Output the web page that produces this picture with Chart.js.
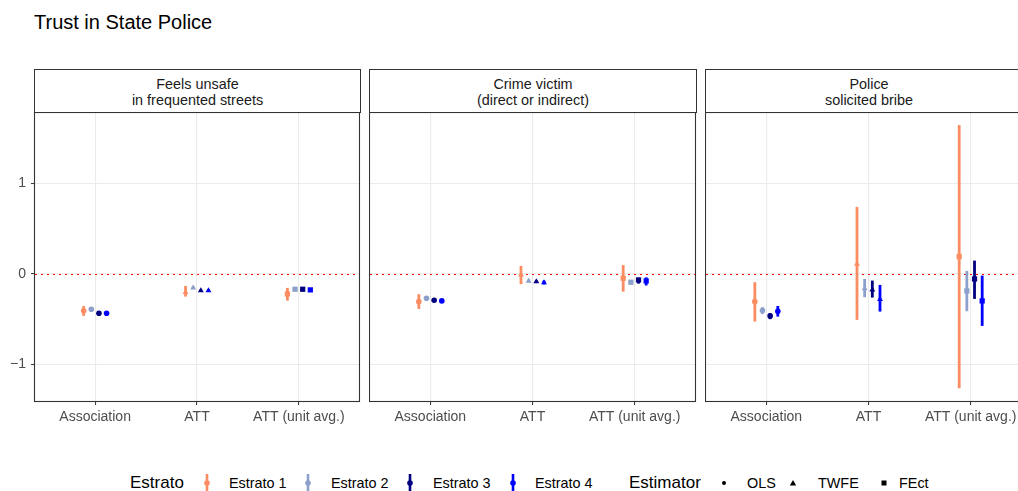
<!DOCTYPE html>
<html>
<head>
<meta charset="utf-8">
<script src="https://cdn.jsdelivr.net/npm/chart.js@4.4.1/dist/chart.umd.min.js"></script>
<style>
  body { margin: 0; width: 1018px; height: 491px; overflow: hidden; position: relative; background: #fff;
         font-family: "Liberation Sans", Arial, Helvetica, sans-serif; }
  .title { position: absolute; left: 34px; top: 10px; font-size: 20px; line-height: 24px; color: #000; white-space: nowrap; }
  .strip { position: absolute; top: 69px; height: 44px; box-sizing: border-box; border: 1px solid #333;
           background: #fff; color: #1a1a1a; font-size: 14.4px; line-height: 16px; text-align: center;
           padding-top: 6px; white-space: nowrap; }
  canvas { position: absolute; }
  .lg { position: absolute; white-space: nowrap; color: #000; }
  .lg-title { font-size: 17px; line-height: 20px; top: 473px; }
  .lg-text { font-size: 14.4px; line-height: 16px; top: 475px; }
  svg.key { position: absolute; overflow: visible; }
</style>
</head>
<body>
<div class="title">Trust in State Police</div>
<div id="strips"></div>
<canvas id="p0" width="361" height="320" style="left:0px;top:112px;width:361px;height:320px"></canvas>
<canvas id="p1" width="328" height="320" style="left:369px;top:112px;width:328px;height:320px"></canvas>
<canvas id="p2" width="328" height="320" style="left:705px;top:112px;width:328px;height:320px"></canvas>
<div id="legend"></div>

<script>
// Estimators on the x axis, one dodged point per estrato
const estimators = ['Association', 'ATT', 'ATT (unit avg.)'];
const estratos = ['Estrato 1', 'Estrato 2', 'Estrato 3', 'Estrato 4'];
const outcomes = [
  ['Feels unsafe', 'in frequented streets'],
  ['Crime victim', '(direct or indirect)'],
  ['Police', 'solicited bribe']
];
const yTicks = [-1, 0, 1];

// Rows: Estrato 1..4; columns: Association, ATT, ATT (unit avg.)
const unsafeEst = [[-0.410, -0.205, -0.224], [-0.393, -0.157, -0.172], [-0.437, -0.187, -0.172], [-0.437, -0.187, -0.179]];
const unsafeLo  = [[-0.467, -0.253, -0.298], [-0.408, -0.170, -0.187], [-0.452, -0.200, -0.187], [-0.452, -0.200, -0.194]];
const unsafeHi  = [[-0.357, -0.135, -0.157], [-0.378, -0.144, -0.157], [-0.422, -0.174, -0.157], [-0.422, -0.174, -0.164]];

const victimEst = [[-0.309, -0.013, -0.050], [-0.271, -0.080, -0.094], [-0.293, -0.087, -0.069], [-0.301, -0.099, -0.080]];
const victimLo  = [[-0.390, -0.116, -0.198], [-0.286, -0.093, -0.114], [-0.308, -0.100, -0.110], [-0.316, -0.120, -0.130]];
const victimHi  = [[-0.227,  0.086,  0.097], [-0.256, -0.067, -0.074], [-0.278, -0.074, -0.045], [-0.286, -0.075, -0.040]];

const bribeEst = [[-0.309,  0.108,  0.189], [-0.408, -0.165, -0.190], [-0.467, -0.179, -0.058], [-0.415, -0.282, -0.301]];
const bribeLo  = [[-0.530, -0.511, -1.267], [-0.445, -0.260, -0.415], [-0.503, -0.264, -0.279], [-0.475, -0.419, -0.578]];
const bribeHi  = [[-0.094,  0.739,  1.647], [-0.370, -0.058,  0.031], [-0.437, -0.076,  0.145], [-0.357, -0.124, -0.021]];

const panels = [
  { est: unsafeEst, lo: unsafeLo, hi: unsafeHi },
  { est: victimEst, lo: victimLo, hi: victimHi },
  { est: bribeEst,  lo: bribeLo,  hi: bribeHi }
];

// Styling
const estratoColors = ['#FC8D62', '#8DA0CB', '#000080', '#0000FF'];
const dodge = [-0.1125, -0.0375, 0.0375, 0.1125];
const shapes = ['circle', 'triangle', 'rect'];
const shapeRadius = [2.8, 3.4, 3.7];
const panelBoxes = [ // left edge, width of each facet frame (px)
  { left: 34, width: 327 }, { left: 369, width: 328 }, { left: 705, width: 328 }
];

Chart.defaults.font.family = '"Liberation Sans", Arial, Helvetica, sans-serif';
Chart.defaults.devicePixelRatio = 1;

// Facet strips
const stripHost = document.getElementById('strips');
outcomes.forEach((lines, i) => {
  const d = document.createElement('div');
  d.className = 'strip';
  d.style.left = panelBoxes[i].left + 'px';
  d.style.width = panelBoxes[i].width + 'px';
  d.innerHTML = lines.map(t => '<div>' + t + '</div>').join('');
  stripHost.appendChild(d);
});

// Zero reference line, error bars and the facet frame
const facetDecor = {
  id: 'facetDecor',
  beforeDatasetsDraw(chart) {
    const { ctx, chartArea: a, scales: { x, y } } = chart;
    ctx.save();
    ctx.beginPath();
    ctx.rect(a.left, a.top, a.right - a.left, a.bottom - a.top);
    ctx.clip();
    const y0 = Math.round(y.getPixelForValue(0)) + 0.5;
    ctx.strokeStyle = 'rgb(255,0,0)';
    ctx.lineWidth = 1;
    ctx.setLineDash([2, 4]);
    ctx.beginPath(); ctx.moveTo(a.left + 1, y0); ctx.lineTo(a.right, y0); ctx.stroke();
    ctx.setLineDash([]);
    chart.data.datasets.forEach(ds => {
      ctx.strokeStyle = ds.backgroundColor;
      ctx.lineWidth = 2.8;
      ds.data.forEach(p => {
        const px = x.getPixelForValue(p.x);
        ctx.beginPath();
        ctx.moveTo(px, y.getPixelForValue(p.lo));
        ctx.lineTo(px, y.getPixelForValue(p.hi));
        ctx.stroke();
      });
    });
    ctx.restore();
  },
  afterDraw(chart) {
    const { ctx, chartArea: a } = chart;
    ctx.save();
    ctx.strokeStyle = '#333333';
    ctx.lineWidth = 1.1;
    ctx.strokeRect(a.left + 0.5, a.top + 0.5, a.right - a.left - 1, a.bottom - a.top - 1);
    ctx.restore();
  }
};

panels.forEach((panel, pi) => {
  const datasets = estratos.map((name, si) => ({
    label: name,
    data: estimators.map((e, ci) => ({
      x: ci + 1 + dodge[si],
      y: panel.est[si][ci],
      lo: panel.lo[si][ci],
      hi: panel.hi[si][ci]
    })),
    backgroundColor: estratoColors[si],
    borderColor: estratoColors[si],
    pointStyle: shapes,
    pointRadius: shapeRadius,
    pointBorderWidth: 0,
    showLine: false
  }));

  const first = pi === 0;
  new Chart(document.getElementById('p' + pi), {
    type: 'scatter',
    data: { datasets },
    options: {
      responsive: false,
      animation: false,
      events: [],
      layout: { autoPadding: false, padding: { left: 0, right: 1, top: 0, bottom: 0 } },
      plugins: { legend: { display: false }, tooltip: { enabled: false } },
      scales: {
        x: {
          type: 'linear',
          min: 0.4, max: 3.6,
          afterBuildTicks: s => { s.ticks = estimators.map((e, i) => ({ value: i + 1 })); },
          afterFit: s => { s.height = 30; s.paddingLeft = 0; s.paddingRight = 0; },
          ticks: {
            callback: v => estimators[v - 1],
            color: '#4d4d4d', font: { size: 14 }, padding: 4,
            maxRotation: 0, autoSkip: false
          },
          grid: { color: '#ebebeb', lineWidth: 1.1, tickColor: '#333333', tickLength: 3, tickWidth: 1 },
          border: { display: false }
        },
        y: {
          type: 'linear',
          min: -1.42, max: 1.79,
          afterBuildTicks: s => { s.ticks = yTicks.map(v => ({ value: v })); },
          afterFit: s => { s.width = first ? 34 : 0; s.paddingTop = 0; s.paddingBottom = 0; },
          ticks: {
            display: first,
            callback: v => String(v).replace('-', '\u2212'),
            color: '#4d4d4d', font: { size: 14 }, padding: 5
          },
          grid: { color: '#ebebeb', lineWidth: 1.1, tickColor: '#333333', tickLength: 3, tickWidth: 1, drawTicks: first },
          border: { display: false }
        }
      }
    },
    plugins: [facetDecor]
  });
});

// Legend
const legendHost = document.getElementById('legend');
function addText(cls, text, left) {
  const d = document.createElement('div');
  d.className = 'lg ' + cls;
  d.style.left = left + 'px';
  d.textContent = text;
  legendHost.appendChild(d);
}
function addKey(svgInner, cx, w, h, top) {
  const ns = 'http://www.w3.org/2000/svg';
  const s = document.createElementNS(ns, 'svg');
  s.setAttribute('class', 'key');
  s.setAttribute('width', w); s.setAttribute('height', h);
  s.style.left = (cx - w / 2) + 'px';
  s.style.top = top + 'px';
  s.innerHTML = svgInner;
  legendHost.appendChild(s);
}
addText('lg-title', 'Estrato', 130);
const estratoKeyX = [207, 308, 410, 513];
const estratoTextX = [229, 331, 433, 535];
estratos.forEach((name, i) => {
  const c = estratoColors[i];
  addKey('<line x1="5" y1="0" x2="5" y2="18" stroke="' + c + '" stroke-width="2.6"/>' +
         '<circle cx="5" cy="9" r="2.8" fill="' + c + '"/>', estratoKeyX[i], 10, 18, 474);
  addText('lg-text', name, estratoTextX[i]);
});
addText('lg-title', 'Estimator', 629);
addKey('<circle cx="4" cy="4" r="2"/>', 724, 8, 8, 479);
addText('lg-text', 'OLS', 747);
addKey('<polygon points="4,1 7.2,6.5 0.8,6.5"/>', 793, 8, 8, 478.5);
addText('lg-text', 'TWFE', 818);
addKey('<rect x="1.5" y="1.5" width="5" height="5"/>', 884, 8, 8, 479);
addText('lg-text', 'FEct', 899);
</script>
</body>
</html>
